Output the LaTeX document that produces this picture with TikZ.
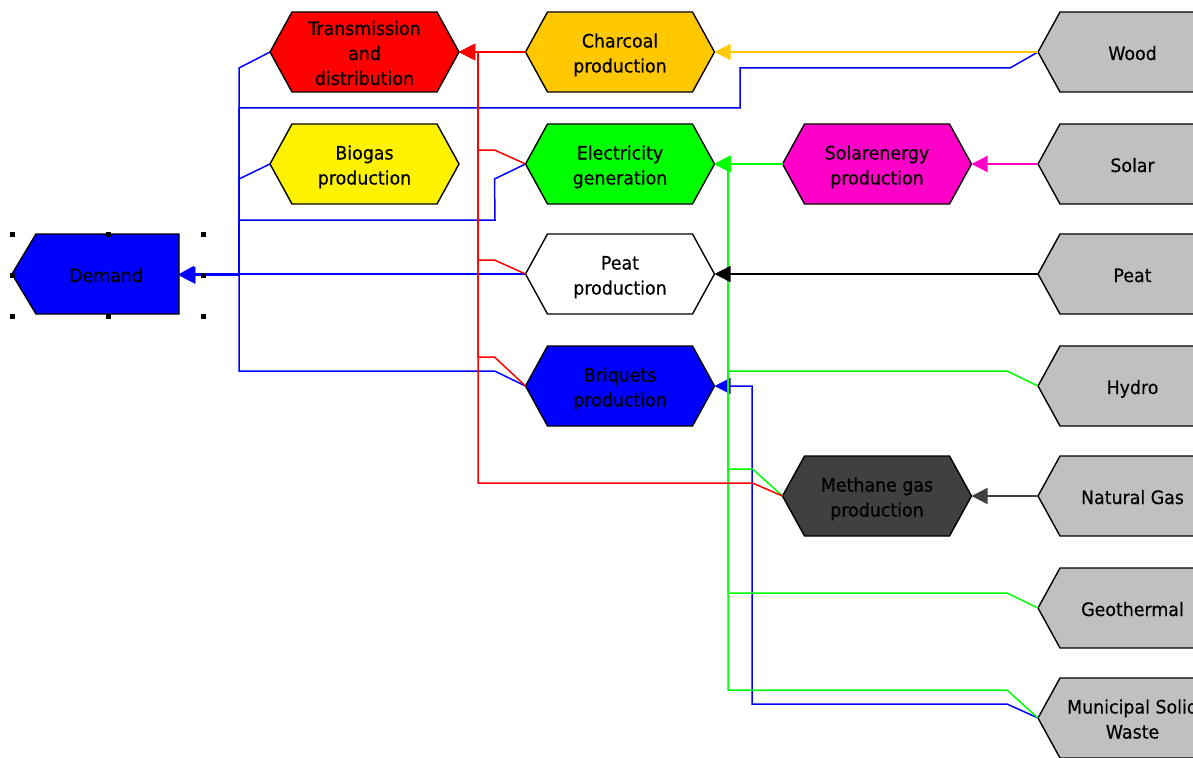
\documentclass[tikz,border=0pt]{standalone}
\usepackage{fontspec}
\setmainfont{DejaVu Sans}[FakeStretch=0.94,FakeBold=0.4]
\usetikzlibrary{arrows.meta}
\definecolor{amber}{RGB}{255,200,0}
\definecolor{magen}{RGB}{255,0,200}
\definecolor{dgray}{RGB}{64,64,64}
\definecolor{lgray}{RGB}{192,192,192}
\newcommand{\sx}{\rule[-4.5pt]{0pt}{25pt}}
\makeatletter
\newdimen\hxL \newdimen\hxR \newdimen\hxT \newdimen\hxB \newdimen\hxM \newdimen\hxLi \newdimen\hxRi
\pgfkeys{/pgf/hex left inset/.initial=22pt, /pgf/hex right inset/.initial=22pt}
\pgfdeclareshape{hexa}{%
  \inheritsavedanchors[from=rectangle]%
  \inheritanchorborder[from=rectangle]%
  \inheritanchor[from=rectangle]{center}%
  \inheritanchor[from=rectangle]{north}%
  \inheritanchor[from=rectangle]{south}%
  \inheritanchor[from=rectangle]{west}%
  \inheritanchor[from=rectangle]{east}%
  \backgroundpath{%
    \pgf@process{\southwest}\hxL=\pgf@x \hxB=\pgf@y
    \pgf@process{\northeast}\hxR=\pgf@x \hxT=\pgf@y
    \hxM=.5\hxB \advance\hxM by .5\hxT
    \pgfmathsetlength\hxLi{\pgfkeysvalueof{/pgf/hex left inset}}%
    \advance\hxLi by \hxL
    \pgfmathsetlength\hxRi{\pgfkeysvalueof{/pgf/hex right inset}}%
    \hxRi=-\hxRi \advance\hxRi by \hxR
    \pgfpathmoveto{\pgfqpoint{\hxL}{\hxM}}%
    \pgfpathlineto{\pgfqpoint{\hxLi}{\hxT}}%
    \pgfpathlineto{\pgfqpoint{\hxRi}{\hxT}}%
    \pgfpathlineto{\pgfqpoint{\hxR}{\hxM}}%
    \pgfpathlineto{\pgfqpoint{\hxRi}{\hxB}}%
    \pgfpathlineto{\pgfqpoint{\hxLi}{\hxB}}%
    \pgfpathclose
  }%
}
\makeatother
\begin{document}
\begin{tikzpicture}[x=1pt,y=-1pt,
  hexnode/.style={shape=hexa, draw=black, line width=1.4pt, fill=#1, minimum width=189pt, minimum height=80pt, inner sep=0pt, outer sep=0pt, align=center, font=\fontsize{18.5}{25}\selectfont},
  conn/.style={line width=1.5pt, draw=#1, -{Triangle[length=16pt,width=16pt]}},
  handle/.style={fill=black, minimum size=5pt, inner sep=0pt, outer sep=0pt}
]
\useasboundingbox (0,0) rectangle (1193,757);
\fill[white] (0,0) rectangle (1193,757);
\clip (0,0) rectangle (1193,757);

% nodes
\node[hexnode=red] (tra) at (364.5,52) {\sx Transmission\\\sx and\\\sx distribution};
\node[hexnode=yellow] (bio) at (364.5,164) {\sx Biogas\\\sx production};
\node[hexnode=amber] (cha) at (620,52) {\sx Charcoal\\\sx production};
\node[hexnode=green] (ele) at (620,164) {\sx Electricity\\\sx generation};
\node[hexnode=white] (pea) at (620,274) {\sx Peat\\\sx production};
\node[hexnode=blue] (bri) at (620,386) {\sx Briquets\\\sx production};
\node[hexnode=magen] (sol) at (877,164) {\sx Solarenergy\\\sx production};
\node[hexnode=dgray] (met) at (877,496) {\sx Methane gas\\\sx production};
\node[hexnode=lgray] (swood) at (1132.5,52) {\sx Wood};
\node[hexnode=lgray] (ssolar) at (1132.5,164) {\sx Solar};
\node[hexnode=lgray] (speat) at (1132.5,274) {\sx Peat};
\node[hexnode=lgray] (shydro) at (1132.5,386) {\sx Hydro};
\node[hexnode=lgray] (sgas) at (1132.5,496) {\sx Natural Gas};
\node[hexnode=lgray] (sgeo) at (1132.5,608) {\sx Geothermal};
\node[hexnode=lgray] (smsw) at (1132.5,718) {\sx Municipal Solid\\\sx Waste};
\node[hexnode=blue, hex left inset=24pt, hex right inset=0pt, minimum width=167pt] (dem) at (95.5,274) {\sx\hspace*{21pt}Demand};

% blue to Demand
\draw[conn=blue] (tra.west) -- ++(-31,16) |- ([yshift=-1.2pt]dem.east);
\draw[conn=blue] (bio.west) -- ++(-31,15) |- ([yshift=-1.2pt]dem.east);
\draw[conn=blue] (swood.west) -- ++(-28,16) -- (740,68) -- (740,108) -- (239,108) |- ([yshift=-1.2pt]dem.east);
\draw[conn=blue] (ele.west) -- ++(-31,15) -- (495,220) -- (239,220) |- ([yshift=-1.2pt]dem.east);
\draw[conn=blue] (bri.west) -- ++(-31,-15) -- (239,371) |- ([yshift=-1.2pt]dem.east);
\draw[conn=blue, -{Triangle[length=15pt,width=16pt]}] (pea.west) -- (dem.east);

% municipal solid waste to briquets
\draw[conn=blue] (smsw.west) -- ++(-31,-14) -- (752,704) |- (bri.east);

% green to electricity
\draw[conn=green] (sol.west) -- (ele.east);
\draw[conn=green] (shydro.west) -- ++(-31,-15) -- (728,371) |- (ele.east);
\draw[conn=green] (met.west) -- ++(-30,-27) -- (728,469) |- (ele.east);
\draw[conn=green] (sgeo.west) -- ++(-31,-15) -- (728,593) |- (ele.east);
\draw[conn=green] (smsw.west) -- ++(-31,-28) -- (728,690) |- (ele.east);

% red to transmission
\draw[conn=red] (cha.west) -- (tra.east);
\draw[conn=red] (ele.west) -- ++(-31,-14) -- (478,150) |- (tra.east);
\draw[conn=red] (pea.west) -- ++(-31,-14) -- (478,260) |- (tra.east);
\draw[conn=red] (bri.west) -- ++(-31,-29) -- (478,357) |- (tra.east);
\draw[conn=red] (met.west) -- ++(-30,-13) -- (478,483) |- (tra.east);

% direct sources
\draw[conn=amber] (swood.west) -- (cha.east);
\draw[conn=magen] (ssolar.west) -- (sol.east);
\draw[conn=black] (speat.west) -- (pea.east);
\draw[conn=dgray] (sgas.west) -- (met.east);

% selection handles
\node[handle] (h1) at (12,234) {};
\node[handle] (h2) at (108,234) {};
\node[handle] (h3) at (203,234) {};
\node[handle] (h4) at (12,275) {};
\node[handle] (h5) at (203,275) {};
\node[handle] (h6) at (12,316) {};
\node[handle] (h7) at (108,316) {};
\node[handle] (h8) at (203,316) {};
\end{tikzpicture}
\end{document}
